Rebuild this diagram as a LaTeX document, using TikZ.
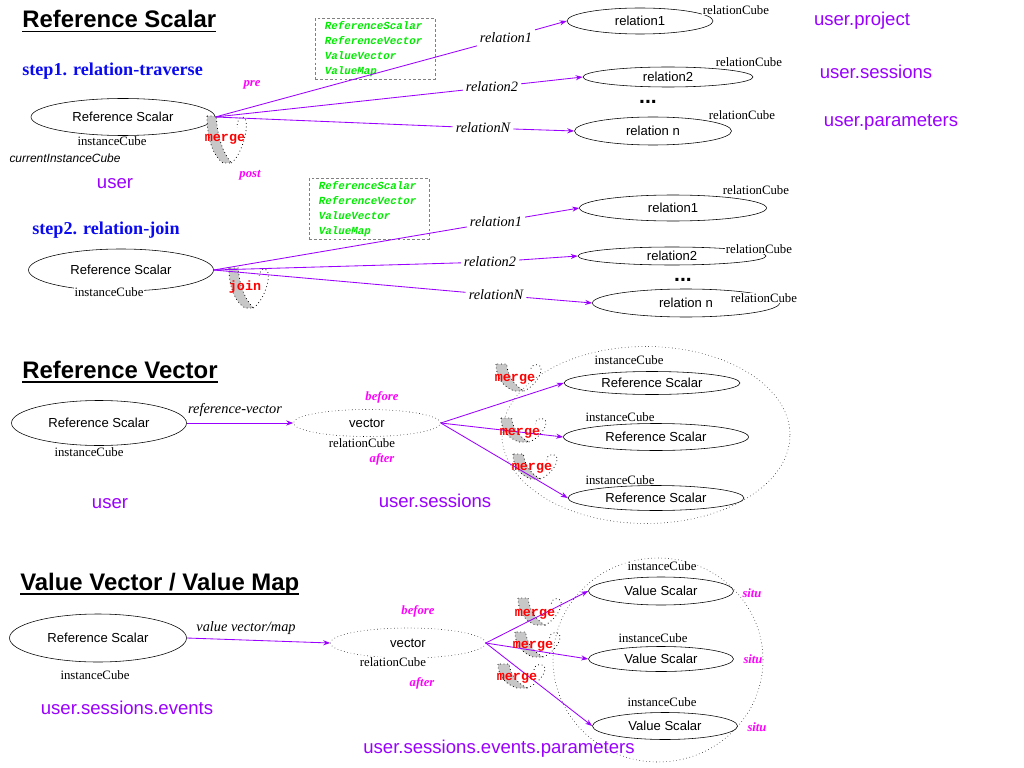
\documentclass[tikz,border=0pt]{standalone}
\usepackage{fontspec}
\setmainfont{Liberation Serif}
\setsansfont{Liberation Sans}
\setmonofont{Liberation Mono}
\usetikzlibrary{shapes.geometric,arrows.meta}
\definecolor{linkpurple}{RGB}{153,0,255}
\definecolor{hookmagenta}{RGB}{255,0,255}
\definecolor{typegreen}{RGB}{0,235,0}
\definecolor{stepblue}{RGB}{10,10,240}
\tikzset{
  scalar/.style={
    draw,
    ellipse,
    inner sep=0pt,
    font=\sffamily\fontsize{9.3}{11}\selectfont,
  },
  vectornode/.style={
    scalar,
    dotted,
  },
  ellsize/.style 2 args={
    minimum width=#1*0.025cm,
    minimum height=#2*0.025cm,
  },
  cubelabel/.style={
    fill=white,
    inner sep=0.5pt,
    font=\fontsize{9.1}{10}\selectfont,
  },
  edgelabel/.style={
    fill=white,
    inner sep=2pt,
    font=\itshape\fontsize{10.2}{12}\selectfont,
  },
  hooklabel/.style={
    text=hookmagenta,
    font=\bfseries\itshape\fontsize{9}{10}\selectfont,
  },
  tablelabel/.style={
    text=linkpurple,
    font=\sffamily\fontsize{13.2}{15}\selectfont,
  },
  mergelabel/.style={
    text=red,
    inner sep=0pt,
    font=\ttfamily\bfseries\fontsize{9.5}{10}\selectfont,
  },
  loopline/.style={
    dotted,
    line width=0.55pt,
  },
  typebox/.style={
    draw=gray,
    dash pattern=on 2pt off 1.5pt,
    fill=white,
    align=left,
    text width=2.5cm,
    inner xsep=0.25cm,
    inner ysep=2pt,
    text=typegreen,
    font=\ttfamily\bfseries\itshape\fontsize{7.7}{10.6}\selectfont,
  },
  heading/.style={
    anchor=base west,
    inner sep=0pt,
    font=\sffamily\bfseries\fontsize{17}{20}\selectfont,
  },
  steplabel/.style={
    anchor=base west,
    inner sep=0pt,
    text=stepblue,
    font=\bfseries\fontsize{12.9}{15}\selectfont,
  },
  dots/.style={
    inner sep=0pt,
    font=\sffamily\bfseries\fontsize{15}{15}\selectfont,
  },
  link/.style={
    draw=linkpurple,
    line width=0.6pt,
  },
}
\newcommand{\headtext}[1]{%
  \setbox0\hbox{#1}\rlap{\rule[-3.2pt]{\wd0}{1.2pt}}\box0%
}
\newcommand{\typelist}{ReferenceScalar\\ReferenceVector\\ValueVector\\ValueMap}
\newcommand{\mergeloop}[4]{%
  \begin{scope}[shift={(#1,#2)}, xscale=#3, yscale=#4]
    \filldraw[fill=black!22, draw=black, loopline]
      (0,0) .. controls (0,0.5) and (0.15,0.85) .. (0.38,1)
      -- (0.58,1) .. controls (0.4,0.8) and (0.25,0.5) .. (0.22,0) -- cycle;
    \draw[loopline]
      (0.58,1) .. controls (0.8,0.85) and (1,0.3) .. (0.92,0.08)
      .. controls (0.85,-0.05) and (0.7,0.05) .. (0.72,0.25);
  \end{scope}%
}

\begin{document}
\begin{tikzpicture}[x=0.025cm, y=-0.025cm, >={Stealth[length=5pt,width=3.6pt]}]
\useasboundingbox (0,0) rectangle (1024,768);

% Reference Scalar, step 1
\node[heading] (headscalar) at (22,28) {\headtext{Reference Scalar}};
\node[steplabel] (steptraverse) at (22,76) {step1. relation-traverse};
\node[typebox] (types1) at (375,49) {\typelist};

\node[scalar, ellsize={184}{37}] (rs1) at (123,117) {Reference Scalar};
\node[cubelabel] (rs1cube) at (112,141) {instanceCube};
\node[font=\sffamily\itshape\fontsize{8.5}{10}\selectfont] (rs1current) at (65,158) {currentInstanceCube};
\node[tablelabel] (tabuser1) at (115,184) {user};
\node[hooklabel] (pre1) at (252,85) {pre};
\node[hooklabel] (post1) at (250,175) {post};

\node[scalar, ellsize={146}{26}] (rel1a) at (640,21) {relation1};
\node[scalar, ellsize={170}{20}] (rel2a) at (668,77) {relation2};
\node[scalar, ellsize={157}{28}] (relna) at (653,131) {relation n};
\node[cubelabel] (rel1acube) at (736,10) {relationCube};
\node[cubelabel] (rel2acube) at (749,62) {relationCube};
\node[cubelabel] (relnacube) at (742,115) {relationCube};
\node[dots] (dotsa) at (648,102) {...};
\node[tablelabel] (tabproject) at (862,21) {user.project};
\node[tablelabel] (tabsessions1) at (876,72) {user.sessions};
\node[tablelabel] (tabparams) at (891,122) {user.parameters};

\mergeloop{207}{116}{42}{47}
\node[mergelabel] (merge1) at (225,139) {merge};

\node[edgelabel] (lrel1a) at (506,38) {relation1};
\node[edgelabel] (lrel2a) at (492,87) {relation2};
\node[edgelabel] (lrelna) at (483,128) {relationN};
\draw[link] (rs1.east) -- (lrel1a);
\draw[link, ->] (lrel1a) -- (rel1a.west);
\draw[link] (rs1.east) -- (lrel2a);
\draw[link, ->] (lrel2a) -- (rel2a.west);
\draw[link] (rs1.east) -- (lrelna);
\draw[link, ->] (lrelna) -- (relna.west);

% Reference Scalar, step 2
\node[steplabel] (stepjoin) at (32,234) {step2. relation-join};
\node[typebox] (types2) at (369,209) {\typelist};

\node[scalar, ellsize={185}{42}] (rs2) at (121,270) {Reference Scalar};
\node[cubelabel] (rs2cube) at (109,292) {instanceCube};

\node[scalar, ellsize={187}{26}] (rel1b) at (673,208) {relation1};
\node[scalar, ellsize={188}{18}] (rel2b) at (672,256) {relation2};
\node[scalar, ellsize={187}{28}] (relnb) at (686,303) {relation n};
\node[cubelabel] (rel1bcube) at (756,190) {relationCube};
\node[cubelabel] (rel2bcube) at (759,249) {relationCube};
\node[cubelabel] (relnbcube) at (764,298) {relationCube};
\node[dots] (dotsb) at (683,280) {...};

\mergeloop{229}{268}{42}{40}
\node[mergelabel] (join1) at (245,287) {join};

\node[edgelabel] (lrel1b) at (496,222) {relation1};
\node[edgelabel] (lrel2b) at (490,262) {relation2};
\node[edgelabel] (lrelnb) at (496,295) {relationN};
\draw[link] (rs2.east) -- (lrel1b);
\draw[link, ->] (lrel1b) -- (rel1b.west);
\draw[link] (rs2.east) -- (lrel2b);
\draw[link, ->] (lrel2b) -- (rel2b.west);
\draw[link] (rs2.east) -- (lrelnb);
\draw[link, ->] (lrelnb) -- (relnb.west);

% Reference Vector
\node[heading] (headvector) at (22,378) {\headtext{Reference Vector}};
\node[scalar, ellsize={175}{45}] (rs3) at (99,423) {Reference Scalar};
\node[cubelabel] (rs3cube) at (89,452) {instanceCube};
\node[tablelabel] (tabuser2) at (110,504) {user};
\node[edgelabel] (lrefvec) at (235,410) {reference-vector};

\node[vectornode, ellsize={147}{27}] (vec1) at (367,423) {vector};
\node[cubelabel] (vec1cube) at (362,443) {relationCube};
\node[hooklabel] (before1) at (382,397) {before};
\node[hooklabel] (after1) at (382,459) {after};
\node[tablelabel] (tabsessions2) at (435,501) {user.sessions};

\node[draw, dotted, ellipse, ellsize={288}{177}] (vecgroup) at (646,435) {};
\mergeloop{496}{364}{48}{27}
\mergeloop{501}{418}{48}{24}
\mergeloop{513}{454}{47}{25}

\node[scalar, ellsize={176}{23}] (rsa) at (652,383) {Reference Scalar};
\node[scalar, ellsize={185}{27}] (rsb) at (656,437) {Reference Scalar};
\node[scalar, ellsize={176}{25}] (rsc) at (656,498) {Reference Scalar};
\node[cubelabel] (rsacube) at (629,360) {instanceCube};
\node[cubelabel] (rsbcube) at (620,417) {instanceCube};
\node[cubelabel] (rsccube) at (620,480) {instanceCube};

\draw[link, ->] (rs3.east) -- (vec1.west);
\draw[link, ->] (vec1.east) -- (rsa.west);
\draw[link, ->] (vec1.east) -- (rsb.west);
\draw[link, ->] (vec1.east) -- (rsc.west);
\node[mergelabel] (merge2a) at (515,379) {merge};
\node[mergelabel] (merge2b) at (520,433) {merge};
\node[mergelabel] (merge2c) at (532,468) {merge};

% Value Vector / Value Map
\node[heading] (headvalue) at (20,590) {\headtext{Value Vector / Value Map}};
\node[scalar, ellsize={177}{48}] (rs4) at (98,638) {Reference Scalar};
\node[cubelabel] (rs4cube) at (95,675) {instanceCube};
\node[tablelabel] (tabevents) at (127,708) {user.sessions.events};
\node[edgelabel] (lvalvec) at (246,628) {value vector/map};

\node[vectornode, ellsize={155}{30}] (vec2) at (408,643) {vector};
\node[cubelabel] (vec2cube) at (393,662) {relationCube};
\node[hooklabel] (before2) at (418,611) {before};
\node[hooklabel] (after2) at (422,683) {after};
\node[tablelabel] (tabeventparams) at (499,749) {user.sessions.events.parameters};

\node[draw, dotted, ellipse, ellsize={210}{204}] (valgroup) at (658,660) {};
\mergeloop{518}{598}{46}{27}
\mergeloop{515}{632}{48}{25}
\mergeloop{498}{664}{50}{24}

\node[scalar, ellsize={145}{28}] (vsa) at (661,591) {Value Scalar};
\node[scalar, ellsize={145}{25}] (vsb) at (661,659) {Value Scalar};
\node[scalar, ellsize={145}{27}] (vsc) at (665,726) {Value Scalar};
\node[cubelabel] (vsacube) at (662,566) {instanceCube};
\node[cubelabel] (vsbcube) at (653,638) {instanceCube};
\node[cubelabel] (vsccube) at (662,702) {instanceCube};
\node[hooklabel] (situa) at (752,593) {situ};
\node[hooklabel] (situb) at (753,659) {situ};
\node[hooklabel] (situc) at (757,727) {situ};

\draw[link, ->] (rs4.east) -- (vec2.west);
\draw[link, ->] (vec2.east) -- (vsa.west);
\draw[link, ->] (vec2.east) -- (vsb.west);
\draw[link, ->] (vec2.east) -- (vsc.west);
\node[mergelabel] (merge3a) at (535,614) {merge};
\node[mergelabel] (merge3b) at (533,646) {merge};
\node[mergelabel] (merge3c) at (517,678) {merge};

\end{tikzpicture}
\end{document}
